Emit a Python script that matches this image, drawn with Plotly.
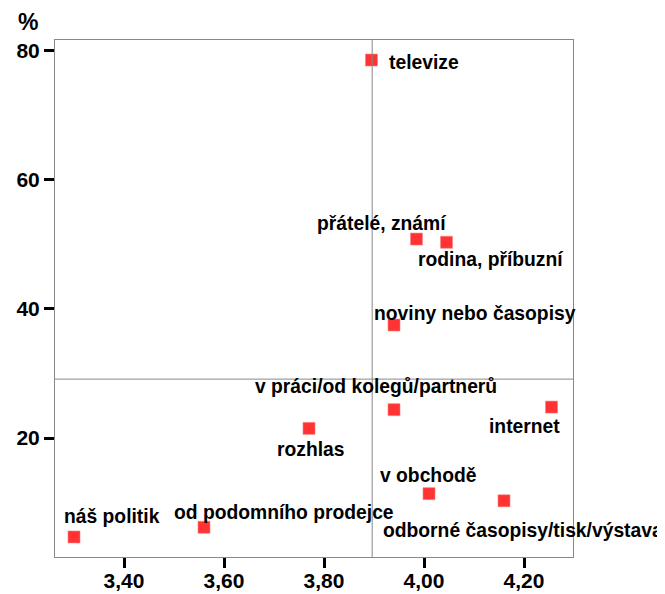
import plotly.graph_objects as go

# --- data ---
labels = ["televize", "přátelé, známí", "rodina, příbuzní", "noviny nebo časopisy",
          "v práci/od kolegů/partnerů", "internet", "rozhlas", "v obchodě",
          "odborné časopisy/tisk/výstava", "od podomního prodejce", "náš politik"]
x_vals = [3.895, 3.985, 4.045, 3.940, 3.940, 4.255, 3.770, 4.010, 4.160, 3.560, 3.300]
y_vals = [78.5, 50.8, 50.3, 37.5, 24.4, 24.8, 21.5, 11.4, 10.3, 6.2, 4.7]
x_ticks = [3.4, 3.6, 3.8, 4.0, 4.2]
y_ticks = [20, 40, 60, 80]

# label offsets in pixels (dx right, dy down) - styling only
label_offsets = [(52, 2), (-35, -16), (44, 17), (81, -12), (-18, -23), (-27, 19),
                 (2, 21), (-1, -18), (19, 30), (80, -15), (38, -20)]

x_mean = sum(x_vals) / len(x_vals)
y_mean = sum(y_vals) / len(y_vals)

FONT = "Liberation Sans, Arial, sans-serif"

fig = go.Figure()
fig.add_trace(go.Scatter(
    x=x_vals, y=y_vals, mode="markers",
    marker=dict(symbol="square", size=12, color="#ff3333",
                line=dict(color="#ff8080", width=0.6)),
    showlegend=False, hoverinfo="skip"))

annotations = []
for lab, xv, yv, (dx, dy) in zip(labels, x_vals, y_vals, label_offsets):
    annotations.append(dict(x=xv, y=yv, xref="x", yref="y", text="<b>%s</b>" % lab,
                            showarrow=False, xanchor="center", yanchor="middle",
                            xshift=dx, yshift=-dy,
                            font=dict(family=FONT, size=19.3, color="black")))
annotations.append(dict(x=-0.052, y=1.0, xref="paper", yref="paper", text="<b>%</b>",
                        showarrow=False, xanchor="center", yanchor="middle", yshift=18,
                        font=dict(family=FONT, size=23, color="black")))

shapes = [
    dict(type="line", xref="x", yref="paper", x0=x_mean, x1=x_mean, y0=0, y1=1,
         line=dict(color="#888888", width=1)),
    dict(type="line", xref="paper", yref="y", x0=0, x1=1, y0=y_mean, y1=y_mean,
         line=dict(color="#888888", width=1)),
]

fig.update_layout(
    width=657, height=586,
    margin=dict(l=47, r=92, t=32, b=37),
    paper_bgcolor="white", plot_bgcolor="white",
    separators=", ",
    annotations=annotations, shapes=shapes,
    font=dict(family=FONT, color="black"),
)
fig.update_xaxes(range=[3.262, 4.298], tickvals=x_ticks, tickformat=".2f",
                 automargin=False, ticklabelstandoff=-5,
                 showgrid=False, zeroline=False, showline=True, mirror=True,
                 linecolor="#888888", linewidth=1,
                 ticks="outside", ticklen=10, tickwidth=3, tickcolor="black",
                 tickfont=dict(family=FONT, size=21, color="black", weight="bold"))
fig.update_yaxes(range=[1.6, 81.6], tickvals=y_ticks,
                 automargin=False,
                 showgrid=False, zeroline=False, showline=True, mirror=True,
                 linecolor="#888888", linewidth=1,
                 ticks="outside", ticklen=10, tickwidth=3, tickcolor="black",
                 tickfont=dict(family=FONT, size=21, color="black", weight="bold"))

fig.write_html("out.html")
